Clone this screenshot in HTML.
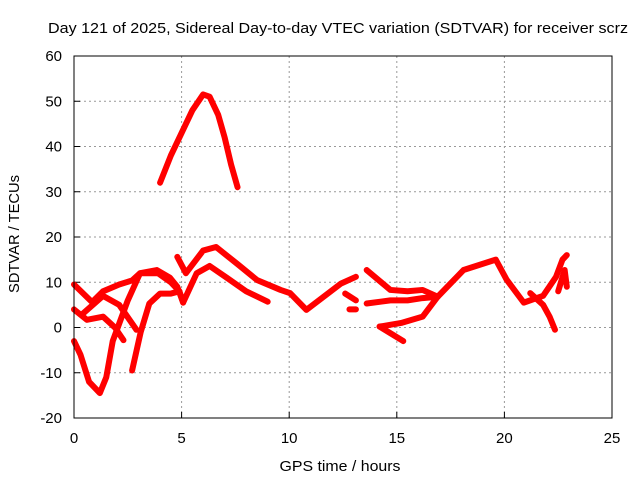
<!DOCTYPE html>
<html><head><meta charset="utf-8"><style>
body{margin:0;background:#fff}
svg{display:block;font-family:"Liberation Sans",sans-serif}
</style></head><body>
<svg id="chart" width="640" height="480" viewBox="0 0 640 480">
<rect width="640" height="480" fill="#fff"/>
<text x="338" y="33" font-size="15" text-anchor="middle" textLength="580" lengthAdjust="spacingAndGlyphs">Day 121 of 2025, Sidereal Day-to-day VTEC variation (SDTVAR) for receiver scrz</text>
<g id="grid"></g>
<g id="axes"></g>
<g id="series"></g>
<rect x="74" y="56" width="538" height="362" fill="none" stroke="#000" stroke-width="1"/>
<text x="340" y="471" font-size="15" text-anchor="middle" textLength="121" lengthAdjust="spacingAndGlyphs">GPS time / hours</text>
<text transform="translate(19,234) rotate(-90)" font-size="15" text-anchor="middle" textLength="118" lengthAdjust="spacingAndGlyphs">SDTVAR / TECUs</text>
</svg>
<script>
const xTicks=[0,5,10,15,20,25];
const yTicks=[-20,-10,0,10,20,30,40,50,60];
const seriesPeak=[[4,32],[4.5,38],[5,43],[5.5,48],[6,51.5],[6.3,51],[6.7,47],[7,42],[7.3,36],[7.6,31]];
const seriesV=[[0,-3],[0.3,-6],[0.7,-12],[1.2,-14.5],[1.5,-11],[1.8,-3],[2.5,6],[3.07,12],[3.85,12.7],[4.46,11],[4.8,9],[5.07,5.5]];
const seriesA=[[0,9.5],[0.84,5.6],[1.35,8],[2.1,9.5],[2.7,10.4],[3.07,12],[3.9,12],[4.5,10],[4.9,8],[5.07,5.5],[5.7,12],[6.3,13.6],[7.1,11],[8,8],[9,5.7]];
const seriesB=[[4.8,15.6],[5.2,12],[6,17],[6.6,17.8],[7.6,14],[8.5,10.5],[9.6,8.3],[10.04,7.6],[10.8,3.9],[11.6,6.8],[12.4,9.7],[13.1,11.2]];
const seriesC=[[0,4],[0.6,1.7],[1.35,2.4],[1.9,0],[2.3,-2.8]];
const seriesD=[[0.4,3],[1.35,7],[2.1,5],[2.9,-0.5]];
const seriesE=[[2.7,-9.5],[3.1,-1],[3.5,5.3],[4,7.5],[4.5,7.5],[4.9,8]];
const seriesF=[[13.6,12.7],[14.7,8.3],[15.5,8],[16.2,8.3],[16.9,6.8],[18.1,12.7],[19.6,15],[20.1,10.6],[20.9,5.5],[21.8,7],[22.4,11.2],[22.7,15],[22.9,16]];
const seriesG=[[13.6,5.3],[14.7,6],[15.5,6],[16.2,6.5],[16.9,6.8]];
const seriesH=[[14.2,0.2],[15.3,-3]];
const seriesI=[[14.2,0.2],[15.2,1],[16.2,2.4],[16.9,6.8]];
const seriesJ=[[21.2,7.6],[21.8,5],[22.1,2.4],[22.35,-0.5]];
const seriesK=[[12.8,4],[13.1,4]];
const seriesL=[[13.1,6],[12.6,7.5]];
const seriesM=[[22.5,8],[22.8,12.7],[22.9,9]];
const allSeries=[seriesPeak,seriesV,seriesA,seriesB,seriesC,seriesD,seriesE,seriesF,seriesG,seriesH,seriesI,seriesJ,seriesK,seriesL,seriesM];
const NS="http://www.w3.org/2000/svg";
const X0=74,X1=612,Y0=418,Y1=56;
function xs(h){return X0+(h-0)/(25-0)*(X1-X0);}
function ys(v){return Y0-(v+20)/(80)*(Y0-Y1);}
const grid=document.getElementById('grid'),axes=document.getElementById('axes'),ser=document.getElementById('series');
function mk(t,a,p){const e=document.createElementNS(NS,t);for(const k in a)e.setAttribute(k,a[k]);p.appendChild(e);return e;}
xTicks.forEach(t=>{
  const x=xs(t);
  if(t>0&&t<25){const l=mk('line',{x1:x,x2:x,y1:Y0,y2:Y1,stroke:'#999','stroke-dasharray':'2,3'},grid);
  
  }
  const tk=mk('line',{x1:x,x2:x,y1:Y0,y2:Y0-6,stroke:'#000'},axes);
  
  
  const tx=mk('text',{x:x,y:443,'font-size':15,'text-anchor':'middle'},axes);tx.textContent=t;
  
  
});
yTicks.forEach(t=>{
  const y=ys(t);
  if(t>-20&&t<60){const l=mk('line',{x1:X0,x2:X1,y1:y,y2:y,stroke:'#999','stroke-dasharray':'2,3'},grid);
  
  }
  const tk=mk('line',{x1:X0,x2:X0+6,y1:y,y2:y,stroke:'#000'},axes);
  
  
  const tx=mk('text',{x:62,y:y+5,'font-size':15,'text-anchor':'end'},axes);tx.textContent=t;
  
  
});
allSeries.forEach((s,i)=>{
  const p=mk('polyline',{points:s.map(d=>xs(d[0])+','+ys(d[1])).join(' '),fill:'none',stroke:'#f00','stroke-width':6,'stroke-linejoin':'round','stroke-linecap':'round'},ser);
  
  
});
</script>
</body></html>
